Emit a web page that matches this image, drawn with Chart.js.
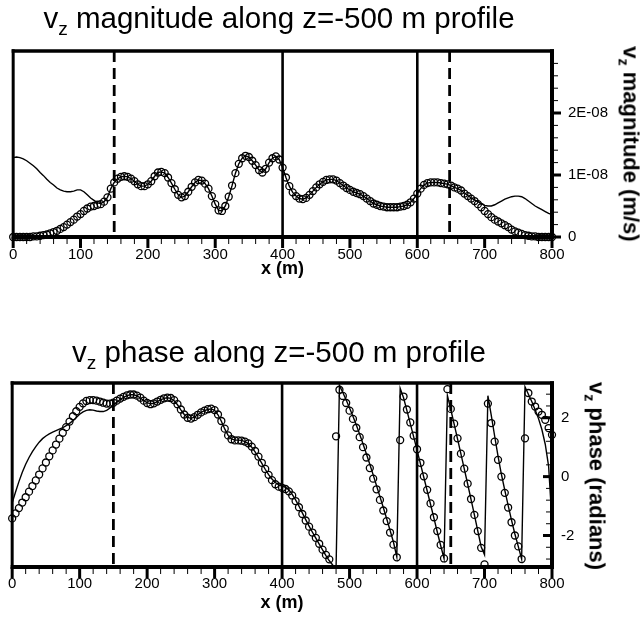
<!DOCTYPE html>
<html><head><meta charset="utf-8">
<script src="https://cdn.jsdelivr.net/npm/chart.js@4"></script>
<style>
html,body{margin:0;padding:0;background:#fff;}
#wrap{position:relative;width:642px;height:620px;overflow:hidden;font-family:'Liberation Sans',Arial,Helvetica,sans-serif;color:#000;}
canvas{position:absolute;left:0;}
.title{position:absolute;left:0;width:558px;text-align:center;font-size:29.5px;line-height:1;white-space:nowrap;}
.title .sub{font-size:0.65em;vertical-align:-7px;}
.ytitle{position:absolute;font-weight:bold;font-size:22px;line-height:1.2;white-space:nowrap;transform:translate(-50%,-50%) rotate(90deg);}
.ytitle .sub{font-size:0.65em;vertical-align:-5px;}
</style></head>
<body><div id="wrap">
<canvas id="c1" width="642" height="310" style="top:0"></canvas>
<canvas id="c2" width="642" height="310" style="top:310px"></canvas>
<div class="title" style="top:3px">v<span class="sub">z</span> magnitude along z=-500 m profile</div>
<div class="title" style="top:337px">v<span class="sub">z</span> phase along z=-500 m profile</div>
<div class="ytitle" style="left:629px;top:144px">v<span class="sub">z</span> magnitude (m/s)</div>
<div class="ytitle" style="left:595px;top:476px">v<span class="sub">z</span> phase (radians)</div>
</div>
<script>
// ---------- data ----------
const profileX = [
  0,5,10,15,20,25,30,35,40,45,
  50,55,60,65,70,75,80,85,90,95,
  100,105,110,115,120,125,130,135,140,145,
  150,155,160,165,170,175,180,185,190,195,
  200,205,210,215,220,225,230,235,240,245,
  250,255,260,265,270,275,280,285,290,295,
  300,305,310,315,320,325,330,335,340,345,
  350,355,360,365,370,375,380,385,390,395,
  400,405,410,415,420,425,430,435,440,445,
  450,455,460,465,470,475,480,485,490,495,
  500,505,510,515,520,525,530,535,540,545,
  550,555,560,565,570,575,580,585,590,595,
  600,605,610,615,620,625,630,635,640,645,
  650,655,660,665,670,675,680,685,690,695,
  700,705,710,715,720,725,730,735,740,745,
  750,755,760,765,770,775,780,785,790,795,
  800];

const MAG_UNIT = 1e-8;
// solid line, in units of 1E-08 m/s
const magModelE8 = [
  1.28,1.29,1.28,1.26,1.23,1.19,1.15,1.10,1.04,0.99,
  0.93,0.88,0.84,0.79,0.76,0.74,0.73,0.73,0.74,0.76,
  0.76,0.73,0.68,0.63,0.59,0.55,0.54,0.57,0.64,0.78,
  0.88,0.94,0.97,0.98,0.97,0.94,0.90,0.85,0.82,0.82,
  0.85,0.90,0.98,1.04,1.05,1.03,0.96,0.87,0.77,0.68,
  0.64,0.66,0.73,0.81,0.88,0.92,0.91,0.86,0.78,0.66,
  0.53,0.43,0.42,0.50,0.65,0.83,1.03,1.18,1.27,1.31,
  1.29,1.23,1.16,1.08,1.04,1.10,1.20,1.27,1.30,1.25,
  1.12,0.96,0.82,0.72,0.66,0.62,0.61,0.63,0.68,0.74,
  0.80,0.85,0.89,0.92,0.93,0.93,0.91,0.87,0.83,0.79,
  0.76,0.73,0.71,0.69,0.66,0.62,0.58,0.54,0.52,0.50,
  0.49,0.48,0.48,0.48,0.48,0.49,0.50,0.52,0.56,0.62,
  0.70,0.78,0.84,0.87,0.88,0.88,0.88,0.87,0.86,0.85,
  0.83,0.80,0.78,0.75,0.71,0.67,0.63,0.60,0.57,0.54,
  0.51,0.50,0.50,0.52,0.55,0.58,0.61,0.63,0.65,0.66,
  0.66,0.65,0.62,0.58,0.54,0.50,0.47,0.44,0.41,0.38,
  0.36];
// open circles, in units of 1E-08 m/s
const magNumericE8 = [
  0,0,0,0,0,0,0.01,0.01,0.02,0.03,
  0.04,0.06,0.08,0.10,0.13,0.16,0.20,0.24,0.28,0.33,
  0.37,0.42,0.46,0.49,0.50,0.52,0.53,0.57,0.64,0.78,
  0.88,0.94,0.97,0.98,0.97,0.94,0.90,0.85,0.82,0.82,
  0.85,0.90,0.98,1.04,1.05,1.03,0.96,0.87,0.77,0.68,
  0.64,0.66,0.73,0.81,0.88,0.92,0.91,0.86,0.78,0.66,
  0.53,0.43,0.42,0.50,0.65,0.83,1.03,1.18,1.27,1.31,
  1.29,1.23,1.16,1.08,1.04,1.10,1.20,1.27,1.30,1.25,
  1.12,0.96,0.82,0.72,0.66,0.62,0.61,0.63,0.68,0.74,
  0.80,0.85,0.89,0.92,0.93,0.93,0.91,0.87,0.83,0.79,
  0.76,0.73,0.71,0.69,0.66,0.62,0.58,0.54,0.52,0.50,
  0.49,0.48,0.48,0.48,0.48,0.49,0.50,0.52,0.56,0.62,
  0.70,0.78,0.84,0.87,0.88,0.88,0.88,0.87,0.86,0.85,
  0.83,0.80,0.78,0.75,0.70,0.66,0.62,0.58,0.53,0.48,
  0.42,0.37,0.32,0.28,0.25,0.22,0.19,0.16,0.12,0.09,
  0.07,0.05,0.03,0.02,0.01,0.01,0,0,0,0,
  0];

// phase, radians
const phaseModel = [
  -0.89,-0.52,-0.17,0.15,0.42,0.65,0.85,1.02,1.17,1.29,
  1.38,1.45,1.51,1.56,1.61,1.66,1.73,1.81,1.90,2.01,
  2.12,2.20,2.25,2.27,2.26,2.23,2.21,2.21,2.25,2.33,
  2.43,2.53,2.62,2.69,2.75,2.78,2.78,2.74,2.67,2.58,
  2.51,2.47,2.49,2.55,2.61,2.66,2.68,2.66,2.58,2.44,
  2.27,2.11,2.01,1.98,2.02,2.10,2.18,2.24,2.28,2.30,
  2.25,2.10,1.88,1.62,1.40,1.28,1.24,1.24,1.23,1.19,
  1.12,1.00,0.84,0.65,0.45,0.25,0.07,-0.08,-0.20,-0.28,
  -0.32,-0.36,-0.45,-0.60,-0.79,-1.00,-1.23,-1.46,-1.68,-1.89,
  -2.09,-2.29,-2.49,-2.68,-2.86,-3.00,-3.10,3.10,2.86,2.60,
  2.33,2.05,1.75,1.44,1.11,0.77,0.42,0.06,-0.31,-0.68,
  -1.05,-1.43,-1.82,-2.22,-2.72,3.00,2.68,2.24,1.80,1.35,
  0.90,0.44,-0.02,-0.48,-0.94,-1.41,-1.88,-2.34,-2.78,2.75,
  2.28,1.78,1.28,0.77,0.26,-0.25,-0.77,-1.30,-1.84,-2.38,
  -2.65,2.75,2.08,1.38,0.70,0.08,-0.46,-0.98,-1.48,-1.95,
  -2.37,-2.80,3.05,2.80,2.55,2.27,1.97,1.60,1.10,0.35,
  -1.55];
const phaseNumeric = [
  -1.42,-1.25,-1.07,-0.88,-0.70,-0.51,-0.32,-0.13,0.07,0.28,
  0.48,0.69,0.89,1.09,1.29,1.49,1.68,1.87,2.05,2.22,
  2.37,2.49,2.57,2.60,2.60,2.58,2.55,2.51,2.48,2.48,
  2.51,2.58,2.65,2.71,2.76,2.79,2.79,2.75,2.68,2.58,
  2.50,2.46,2.49,2.55,2.61,2.66,2.68,2.67,2.60,2.46,
  2.28,2.11,2.00,1.97,2.02,2.10,2.18,2.24,2.29,2.31,
  2.26,2.11,1.89,1.63,1.40,1.27,1.23,1.23,1.22,1.19,
  1.13,1.02,0.87,0.68,0.47,0.26,0.06,-0.12,-0.26,-0.34,
  -0.38,-0.42,-0.50,-0.64,-0.83,-1.04,-1.27,-1.49,-1.70,-1.90,
  -2.08,-2.28,-2.48,-2.66,-2.81,null,1.37,2.95,2.74,2.50,
  2.24,1.96,1.66,1.34,1.00,0.65,0.29,-0.07,-0.43,-0.79,
  -1.15,-1.51,-1.90,-2.31,-2.74,1.24,2.72,2.28,1.84,1.39,
  0.93,0.47,0.01,-0.45,-0.91,-1.38,-1.85,-2.32,-2.78,2.97,
  2.30,1.80,1.30,0.78,0.27,-0.24,-0.76,-1.30,-1.85,-2.42,
  -2.98,2.48,1.82,1.19,0.57,0.00,-0.55,-1.05,-1.55,-2.00,
  -2.37,-2.80,1.30,2.84,2.55,2.38,2.21,2.10,1.93,1.65,
  1.42];

// vertical marker lines (x in m)
const magSolidX = [400, 600];
const magDashedX = [150, 648];
const phaseSolidX = [400, 600];
const phaseDashedX = [150, 650];

// ticks
const xTickValues = [0,100,200,300,400,500,600,700,800];
const xTickLabels = ['0','100','200','300','400','500','600','700','800'];
const xMinorStep = 20;
const magTickValues = [0, 1e-8, 2e-8];
const magTickLabels = ['0','1E-08','2E-08'];
const magMinorStep = 0.2e-8;
const phaseTickValues = [-2, 0, 2];
const phaseTickLabels = ['-2','0','2'];
const phaseMinorStep = 0.4;

const X_MIN = 0, X_MAX = 800;
const MAG_MIN = 0, MAG_MAX = 3e-8;
const PH_MIN = -3.07, PH_MAX = 3.18;

// ---------- drawing ----------
const FAMILY = "'Liberation Sans', Arial, Helvetica, sans-serif";

function minorList(min, max, step, majors) {
  const out = [];
  const n = Math.round((max - min) / step);
  for (let i = 0; i <= n; i++) {
    const v = min + i * step;
    if (!majors.some(m => Math.abs(m - v) < step * 0.01)) out.push(v);
  }
  return out;
}

const axisDecor = {
  id: 'axisDecor',
  afterDatasetsDraw(chart, args, o) {
    const {ctx, chartArea: a, scales: {x, y}} = chart;
    ctx.save();
    ctx.strokeStyle = '#000';
    ctx.lineCap = 'butt';
    ctx.setLineDash([]);
    const seg = (x1, y1, x2, y2, w) => {
      ctx.lineWidth = w; ctx.beginPath(); ctx.moveTo(x1, y1); ctx.lineTo(x2, y2); ctx.stroke();
    };
    o.xMinor.forEach(v => { const p = x.getPixelForValue(v); seg(p, a.bottom, p, a.bottom + 7, 1); });
    o.xMajor.forEach(v => { const p = x.getPixelForValue(v); seg(p, a.bottom, p, a.bottom + 11, 3); });
    const d = o.yOut ? 1 : -1;
    o.yMinor.forEach(v => { const p = y.getPixelForValue(v); seg(a.right, p, a.right + d * 6, p, 1); });
    o.yMajor.forEach(v => { const p = y.getPixelForValue(v); seg(a.right, p, a.right + d * 9, p, 3); });
    seg(a.left, a.top - 1.75, a.left, a.bottom + 2, 3);
    seg(a.right, a.top - 1.75, a.right, a.bottom + 2, 4);
    seg(a.left - 1.5, a.top, a.right + 2, a.top, 3.5);
    seg(a.left - 1.5, a.bottom, a.right + 2, a.bottom, 4);
    ctx.restore();
  }
};

function vlines(xs, ymin, ymax, dashed) {
  return xs.map(xv => ({
    data: [{x: xv, y: ymax}, {x: xv, y: ymin}],
    showLine: true, borderColor: '#000', backgroundColor: '#000',
    borderWidth: dashed ? 2.8 : 2.6, borderDash: dashed ? [11, 6] : [],
    pointRadius: 0, order: 5
  }));
}

function makeChart(id, cfg) {
  const lineData = profileX.map((xv, i) => ({x: xv, y: cfg.line[i]}));
  const circData = profileX.map((xv, i) => ({x: xv, y: cfg.circles[i]}));
  return new Chart(document.getElementById(id), {
    type: 'scatter',
    data: {
      datasets: [
        {data: circData, showLine: false, pointStyle: 'circle', pointRadius: 3.5,
         pointBorderWidth: 1.3, pointBorderColor: '#000', pointBackgroundColor: 'rgba(0,0,0,0)',
         borderColor: '#000', backgroundColor: 'rgba(0,0,0,0)', clip: false, order: 1},
        {data: lineData, showLine: true, borderColor: '#000', borderWidth: 1.4,
         pointRadius: 0, tension: 0, order: 2},
        ...vlines(cfg.solid, cfg.ymin, cfg.ymax, false),
        ...vlines(cfg.dashed, cfg.ymin, cfg.ymax, true)
      ]
    },
    options: {
      responsive: false, animation: false, devicePixelRatio: 1,
      events: [],
      layout: {padding: {left: 11, top: cfg.padTop, right: 0, bottom: 0}},
      plugins: {
        legend: {display: false}, tooltip: {enabled: false}, title: {display: false},
        axisDecor: {
          xMajor: xTickValues, xMinor: minorList(X_MIN, X_MAX, xMinorStep, xTickValues),
          yMajor: cfg.yTicks, yMinor: cfg.yMinor, yOut: cfg.yOut
        }
      },
      scales: {
        x: {
          type: 'linear', position: 'bottom', min: X_MIN, max: X_MAX,
          afterBuildTicks: s => { s.ticks = xTickValues.map(v => ({value: v})); },
          afterFit: s => { s.height = cfg.xHeight; },
          grid: {display: false, drawTicks: false}, border: {display: false},
          ticks: {padding: cfg.xTickPad, color: '#000', font: {family: FAMILY, size: 15},
                  maxRotation: 0, autoSkip: false, callback: (v, i) => xTickLabels[i]},
          title: {display: true, text: 'x (m)', color: '#000',
                  font: {family: FAMILY, size: 18, weight: 'bold'},
                  padding: {top: 0, bottom: cfg.xTitlePad}}
        },
        y: {
          type: 'linear', position: 'right', min: cfg.ymin, max: cfg.ymax,
          afterBuildTicks: s => { s.ticks = cfg.yTicks.map(v => ({value: v})); },
          afterFit: s => { s.width = 90; },
          grid: {display: false, drawTicks: false}, border: {display: false},
          ticks: {padding: cfg.yTickPad, color: '#000', font: {family: FAMILY, size: 15},
                  autoSkip: false, callback: (v, i) => cfg.yLabels[i]}
        }
      }
    },
    plugins: [axisDecor]
  });
}

makeChart('c1', {
  line: magModelE8.map(v => v * MAG_UNIT),
  circles: magNumericE8.map(v => v * MAG_UNIT),
  solid: magSolidX, dashed: magDashedX,
  ymin: MAG_MIN, ymax: MAG_MAX,
  yTicks: magTickValues, yLabels: magTickLabels,
  yMinor: minorList(MAG_MIN, 2.8e-8, magMinorStep, magTickValues),
  yOut: true, padTop: 51, xHeight: 73, xTickPad: 9, xTitlePad: 30, yTickPad: 16
});

makeChart('c2', {
  line: phaseModel, circles: phaseNumeric,
  solid: phaseSolidX, dashed: phaseDashedX,
  ymin: PH_MIN, ymax: PH_MAX,
  yTicks: phaseTickValues, yLabels: phaseTickLabels,
  yMinor: minorList(-2.8, 2.8, phaseMinorStep, phaseTickValues),
  yOut: false, padTop: 73, xHeight: 53, xTickPad: 8, xTitlePad: 6, yTickPad: 9
});
</script>
</body></html>
